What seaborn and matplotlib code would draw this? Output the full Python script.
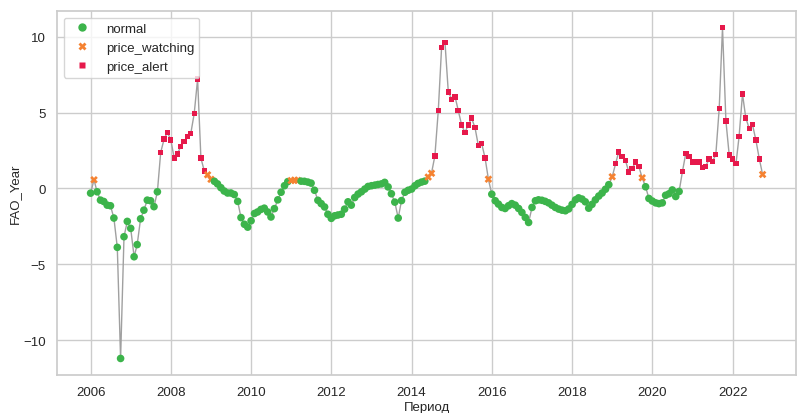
import pandas as pd
import matplotlib
matplotlib.use("Agg")
import matplotlib.pyplot as plt
import matplotlib.dates as mdates
import seaborn as sns

# monthly FAO_Year values, Jan 2006 .. Oct 2022
y2006 = [-0.31, 0.57, -0.22, -0.77, -0.86, -1.1, -1.14, -1.95, -3.88, -11.2, -3.18, -2.17]
y2007 = [-2.63, -4.5, -3.7, -2.0, -1.43, -0.77, -0.81, -1.2, -0.22, 2.37, 3.25, 3.7]
y2008 = [3.2, 2.0, 2.26, 2.78, 3.09, 3.44, 3.62, 4.93, 7.2, 2.0, 1.15, 0.9]
y2009 = [0.6, 0.47, 0.3, 0.05, -0.17, -0.3, -0.3, -0.4, -0.85, -1.92, -2.36, -2.55]
y2010 = [-2.13, -1.65, -1.55, -1.38, -1.3, -1.55, -1.88, -1.33, -0.75, -0.25, 0.18, 0.45]
y2011 = [0.52, 0.55, 0.53, 0.48, 0.47, 0.42, 0.35, -0.12, -0.78, -1.0, -1.22, -1.7]
y2012 = [-1.97, -1.8, -1.75, -1.7, -1.36, -0.88, -1.1, -0.6, -0.37, -0.22, -0.04, 0.13]
y2013 = [0.18, 0.22, 0.26, 0.3, 0.4, 0.1, -0.35, -0.9, -1.95, -0.8, -0.25, -0.12]
y2014 = [-0.04, 0.18, 0.33, 0.42, 0.48, 0.75, 1.0, 2.15, 5.15, 9.3, 9.6, 6.36]
y2015 = [5.88, 6.03, 5.15, 4.19, 3.68, 4.19, 4.63, 4.01, 2.81, 2.96, 2.0, 0.61]
y2016 = [-0.38, -0.81, -1.03, -1.25, -1.32, -1.14, -1.0, -1.1, -1.32, -1.58, -1.91, -2.24]
y2017 = [-1.25, -0.81, -0.75, -0.78, -0.85, -0.95, -1.1, -1.25, -1.36, -1.43, -1.47, -1.35]
y2018 = [-1.05, -0.75, -0.62, -0.7, -0.88, -1.3, -1.05, -0.75, -0.5, -0.3, -0.05, 0.25]
y2019 = [0.77, 1.64, 2.41, 2.1, 1.86, 1.08, 1.3, 1.73, 1.43, 0.7, 0.11, -0.66]
y2020 = [-0.83, -0.95, -1.0, -0.95, -0.45, -0.35, -0.1, -0.53, -0.2, 1.1, 2.32, 2.12]
y2021 = [1.73, 1.73, 1.73, 1.38, 1.45, 1.95, 1.78, 2.22, 5.27, 10.6, 4.45, 2.2]
y2022 = [1.95, 1.65, 3.43, 6.22, 4.65, 3.95, 4.2, 3.18, 1.95, 0.92]

# status codes per month: n = normal, w = price_watching, a = price_alert
s2006 = "nwnnnnnnnnnn"
s2007 = "nnnnnnnnnaaa"
s2008 = "aaaaaaaaaaaw"
s2009 = "wnnnnnnnnnnn"
s2010 = "nnnnnnnnnnnn"
s2011 = "wwwnnnnnnnnn"
s2012 = "nnnnnnnnnnnn"
s2013 = "nnnnnnnnnnnn"
s2014 = "nnnnnwwaaaaa"
s2015 = "aaaaaaaaaaaw"
s2016 = "nnnnnnnnnnnn"
s2017 = "nnnnnnnnnnnn"
s2018 = "nnnnnnnnnnnn"
s2019 = "waaaaaaaawnn"
s2020 = "nnnnnnnnnaaa"
s2021 = "aaaaaaaaaaaa"
s2022 = "aaaaaaaaaw"

status_names = {"n": "normal", "w": "price_watching", "a": "price_alert"}
categories = ["normal", "price_watching", "price_alert"]
colors = {"normal": "#3cb44b", "price_watching": "#f58231", "price_alert": "#e6194b"}

values = (y2006 + y2007 + y2008 + y2009 + y2010 + y2011 + y2012 + y2013 + y2014
          + y2015 + y2016 + y2017 + y2018 + y2019 + y2020 + y2021 + y2022)
codes = (s2006 + s2007 + s2008 + s2009 + s2010 + s2011 + s2012 + s2013 + s2014
         + s2015 + s2016 + s2017 + s2018 + s2019 + s2020 + s2021 + s2022)

df = pd.DataFrame({
    "date": pd.date_range("2006-01-01", periods=len(values), freq="MS"),
    "FAO_Year": values,
    "status": [status_names[c] for c in codes],
})

sns.set_theme(style="whitegrid")
plt.rcParams["font.family"] = ["Liberation Sans", "DejaVu Sans"]

fig = plt.figure(figsize=(7.97, 4.14), dpi=100)
ax = fig.add_axes([57 / 797, 1 - 376 / 414, 1 - 57 / 797 - 0.001, (376 - 12) / 414])

sns.lineplot(data=df, x="date", y="FAO_Year", color="#a0a0a0", linewidth=1, ax=ax, zorder=1)
sns.scatterplot(data=df, x="date", y="FAO_Year", hue="status", style="status",
                hue_order=categories, style_order=categories, palette=colors,
                s=30, edgecolor="none", ax=ax, zorder=2)

ax.xaxis.set_major_locator(mdates.YearLocator(2))
ax.xaxis.set_major_formatter(mdates.DateFormatter("%Y"))
ax.set_yticks([-10, -5, 0, 5, 10])
ax.tick_params(labelsize=9.5, pad=2)
ax.set_xlabel("Период", fontsize=9.5, labelpad=2)
ax.set_ylabel("FAO_Year", fontsize=9.5, labelpad=2)

handles, labels = ax.get_legend_handles_labels()
ax.legend(handles, labels, loc="upper left", fontsize=9.5, frameon=True,
          markerscale=1.1, handletextpad=0.8, borderpad=0.4)

fig.savefig("out.png", dpi=100)
